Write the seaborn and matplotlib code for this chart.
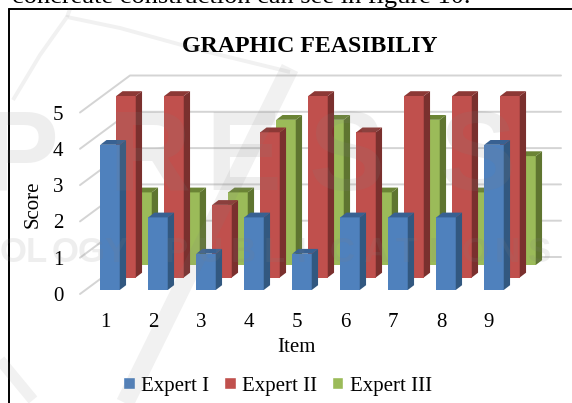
import matplotlib
matplotlib.use("Agg")
import matplotlib.pyplot as plt
import numpy as np
import seaborn as sns
from matplotlib.lines import Line2D
from matplotlib.patches import Patch, Polygon

items = [1, 2, 3, 4, 5, 6, 7, 8, 9]
expert_1 = [4, 2, 1, 2, 1, 2, 2, 2, 4]
expert_2 = [5, 5, 2, 4, 5, 4, 5, 5, 5]
expert_3 = [2, 2, 2, 4, 4, 2, 4, 2, 3]
score_ticks = [0, 1, 2, 3, 4, 5]

W, H = 572, 403
PX_X, PX_Y = 48.0, 36.3        # pixels per item / per score point
LEFT, BOTTOM, RIGHT, TOP = 80, 294, 561, 70
FIRST_ITEM_PX = 105

sns.set_theme(style="white")
plt.rcParams["font.family"] = ["Liberation Serif", "DejaVu Serif"]

fig = plt.figure(figsize=(W / 100, H / 100), dpi=100, facecolor="white")
ax = fig.add_axes([LEFT / W, 1 - BOTTOM / H, (RIGHT - LEFT) / W, (BOTTOM - TOP) / H])
xlim = (1 + (LEFT - FIRST_ITEM_PX) / PX_X, 1 + (RIGHT - FIRST_ITEM_PX) / PX_X)
ylim = (0, (BOTTOM - TOP) / PX_Y)

# Back wall and the receding gridlines on the left wall
depth_x, depth_y = 50 / PX_X, 37 / PX_Y
grid_x0, grid_x1 = xlim[0], xlim[1]
for s in score_ticks:
    ax.plot([grid_x0, grid_x0 + depth_x, grid_x1], [s, s + depth_y, s + depth_y],
            color="#d4d4d4", lw=1.4, zorder=0, clip_on=False)

# Each series sits on its own row, drawn back to front
series = [
    ("Expert III", expert_3, "#9BBB59", "#5F7530", "#6B8435", 37, 29),
    ("Expert II", expert_2, "#C0504D", "#7A302E", "#8C3835", 21, 16.5),
    ("Expert I", expert_1, "#4F81BD", "#325880", "#386192", 5, 4),
]
side_x, side_y = 6.3 / PX_X, 4.8 / PX_Y
for z, (name, vals, front, side, top, off_x, off_y) in enumerate(series):
    before = len(ax.patches)
    sns.barplot(x=np.array(items) + off_x / PX_X, y=vals, bottom=off_y / PX_Y,
                native_scale=True, width=19.5 / PX_X, color=front, saturation=1,
                errorbar=None, ax=ax, zorder=2 + 2 * z, linewidth=0)
    for bar in ax.patches[before:len(ax.patches)]:
        x0, x1 = bar.get_x(), bar.get_x() + bar.get_width()
        y0, y1 = bar.get_y(), bar.get_y() + bar.get_height()
        ax.add_patch(Polygon([(x1, y0), (x1 + side_x, y0 + side_y),
                              (x1 + side_x, y1 + side_y), (x1, y1)],
                             facecolor=side, edgecolor="none", zorder=2 + 2 * z))
        ax.add_patch(Polygon([(x0, y1), (x0 + side_x, y1 + side_y),
                              (x1 + side_x, y1 + side_y), (x1, y1)],
                             facecolor=top, edgecolor="none", zorder=2 + 2 * z))

ax.set_xlim(*xlim)
ax.set_ylim(*ylim)
ax.set_xticks(items, [str(i) for i in items])
ax.set_yticks(score_ticks, [str(s) for s in score_ticks])
ax.tick_params(axis="both", length=0, labelsize=15, labelcolor="black")
ax.tick_params(axis="x", pad=13.5)
ax.tick_params(axis="y", pad=12)
ax.set_facecolor("none")
sns.despine(ax=ax, left=True, bottom=True)


def axes_px(px, py):
    return (px - LEFT) / (RIGHT - LEFT), (BOTTOM - py) / (BOTTOM - TOP)


ax.set_xlabel("Item", fontsize=15, color="black")
ax.xaxis.set_label_coords(*axes_px(296, 348))
ax.xaxis.label.set_verticalalignment("center")
ax.set_ylabel("Score", fontsize=15, color="black")
ax.yaxis.set_label_coords(*axes_px(33, 204))
ax.yaxis.label.set_verticalalignment("center")


def fx(px):
    return px / W


def fy(py):
    return 1 - py / H


fig.text(fx(309.5), fy(46.5), "GRAPHIC FEASIBILIY", fontsize=17.2, fontweight="bold",
         ha="center", va="center", color="black")

# Legend
legend = fig.legend(
    handles=[Patch(facecolor=c, label=n) for n, _, c, *_ in reversed(series)],
    loc="center", bbox_to_anchor=(fx(277.5), fy(386)), ncol=3, frameon=False,
    fontsize=15, handlelength=0.55, handleheight=0.55, handletextpad=0.3,
    columnspacing=0.72, borderpad=0, labelcolor="black",
)

# Running text above the figure and the figure's frame
fig.text(fx(12), fy(3), "concreate construction can see in figure 10.", fontsize=19,
         ha="left", va="baseline", color="black")
fig.add_artist(Line2D([fx(9), fx(9)], [fy(9), fy(H)], color="black", lw=1.4))
fig.add_artist(Line2D([fx(9), fx(W)], [fy(9), fy(9)], color="black", lw=1.4))

# Publisher watermark laid over the page
mark = dict(color="#808080", alpha=0.13, zorder=6)
for letter, px in [("P", -18), ("R", 108), ("E", 205), ("S", 309), ("S", 440)]:
    fig.text(fx(px), fy(190), letter, fontsize=82, fontweight="bold",
             family="Liberation Sans", ha="left", va="baseline", **mark)
for word, start, step in [("OLOGY", 0, 26), ("PUBLICATIONS", 165, 33)]:
    for i, letter in enumerate(word):
        fig.text(fx(start + i * step), fy(262), letter, fontsize=25, fontweight="bold",
                 family="Liberation Sans", ha="left", va="baseline", **mark)
swooshes = [
    ([13, 40, 67, 120, 200, 290], [100, 55, 17, 28, 50, 72], 2.8),
    ([67, 70], [17, 9], 2.8),
    ([290, 125], [68, 403], 13),
    ([0, 33], [360, 400], 8),
]
for xs, ys, lw in swooshes:
    fig.add_artist(Line2D([fx(x) for x in xs], [fy(y) for y in ys], color="#808080",
                          alpha=0.11, lw=lw, zorder=6, solid_capstyle="butt"))

fig.savefig("out.png", dpi=100)
